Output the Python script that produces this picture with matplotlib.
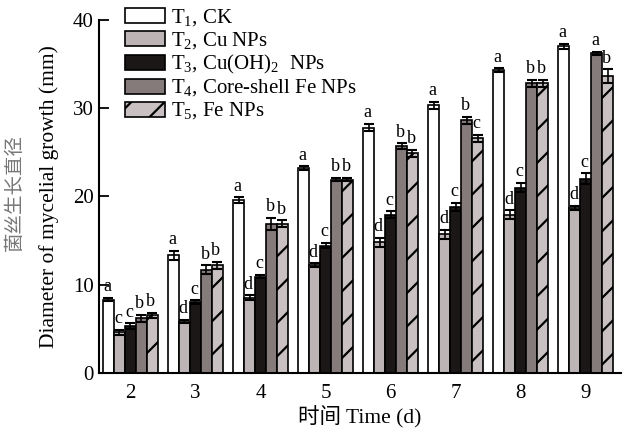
import numpy as np
import matplotlib.pyplot as plt

plt.rcParams['font.family'] = ['Liberation Serif', 'Noto Sans CJK SC']
plt.rcParams['mathtext.fontset'] = 'custom'
plt.rcParams['mathtext.rm'] = 'Liberation Serif'
plt.rcParams['hatch.linewidth'] = 1.6

days = [2, 3, 4, 5, 6, 7, 8, 9]
labels = ['T$_1$, CK', 'T$_2$, Cu NPs', 'T$_3$, Cu(OH)$_2$  NPs',
          'T$_4$, Core-shell Fe NPs', 'T$_5$, Fe NPs']

t1 = [8.3, 13.3, 19.6, 23.2, 27.8, 30.3, 34.3, 37.0]
t2 = [4.6, 5.8, 8.5, 12.2, 14.8, 15.7, 17.9, 18.7]
t3 = [5.3, 8.0, 10.9, 14.4, 17.9, 18.8, 21.0, 22.0]
t4 = [6.2, 11.7, 16.9, 21.9, 25.7, 28.6, 32.8, 36.2]
t5 = [6.5, 12.2, 16.9, 21.9, 24.9, 26.6, 32.8, 33.6]

e1 = [0.2, 0.5, 0.3, 0.2, 0.4, 0.4, 0.2, 0.3]
e2 = [0.3, 0.2, 0.3, 0.2, 0.5, 0.5, 0.5, 0.2]
e3 = [0.3, 0.2, 0.2, 0.3, 0.4, 0.5, 0.5, 0.6]
e4 = [0.4, 0.5, 0.7, 0.2, 0.3, 0.4, 0.4, 0.2]
e5 = [0.3, 0.4, 0.4, 0.2, 0.4, 0.4, 0.4, 0.8]

let1 = ['a'] * 8
let2 = ['c', 'd', 'd', 'd', 'd', 'd', 'd', 'd']
let3 = ['c', 'c', 'c', 'c', 'c', 'c', 'c', 'c']
let4 = ['b', 'b', 'b', 'b', 'b', 'b', 'b', 'a']
let5 = ['b', 'b', 'b', 'b', 'b', 'c', 'b', 'b']

values = [t1, t2, t3, t4, t5]
errors = [e1, e2, e3, e4, e5]
letters = [let1, let2, let3, let4, let5]
colors = ['white', '#bdb5b5', '#1b1716', '#857b7b', '#c9c1c1']
hatches = [None, None, None, None, '/']

fig = plt.figure(figsize=(6.33, 4.32), dpi=100)
ax = fig.add_axes([0.157, 0.137, 0.824, 0.817])

x = np.array(days)
w = 0.168
for i in range(5):
    pos = x + (i - 2) * w
    ax.bar(pos, values[i], w, color=colors[i], edgecolor='black', linewidth=1.2,
           hatch=hatches[i], label=labels[i], zorder=2)
    ax.errorbar(pos, values[i], yerr=errors[i], fmt='none', ecolor='black',
                elinewidth=1.2, capsize=3.8, capthick=1.5, zorder=3)
    for j in range(len(days)):
        ax.text(pos[j] - 0.02, values[i][j] + errors[i][j] + 0.3, letters[i][j],
                ha='center', va='bottom', fontsize=13)

ax.set_xlim(1.525, 9.54)
ax.set_ylim(0, 40)
ax.set_yticks([0, 10, 20, 30, 40])
ax.set_xticks(days)
ax.tick_params(axis='y', direction='in', length=7, width=1.3, labelsize=15, pad=4)
ax.tick_params(axis='x', length=0, labelsize=15, pad=8)
for s in ['top', 'right']:
    ax.spines[s].set_visible(False)
for s in ['left', 'bottom']:
    ax.spines[s].set_linewidth(1.5)

ax.set_xlabel('时间 Time (d)', fontsize=15.5, labelpad=2)
ax.set_ylabel('Diameter of mycelial growth (mm)', fontsize=15.5, labelpad=10)
fig.text(0.024, 0.555, '菌丝生长直径', rotation=90, ha='center', va='center',
         fontsize=14, color='#777777', fontweight='light')

ax.legend(loc='upper left', bbox_to_anchor=(0.05, 1.035), frameon=False,
          fontsize=15, handlelength=1.9, handleheight=0.72, labelspacing=0.08,
          handletextpad=0.3, borderpad=0, borderaxespad=0)

fig.savefig('out.png', dpi=100)
